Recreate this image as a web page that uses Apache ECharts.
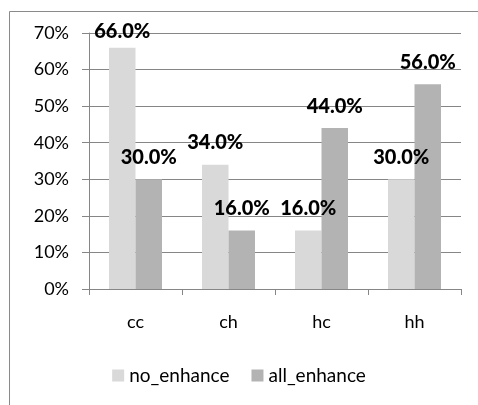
<!DOCTYPE html>
<html>
<head>
<meta charset="utf-8">
<script src="https://cdn.jsdelivr.net/npm/echarts@6/dist/echarts.min.js"></script>
<style>
  html, body { margin: 0; padding: 0; background: #fff; }
  #chart { width: 478px; height: 405px; }
</style>
</head>
<body>
<div id="chart"></div>
<script>
// Categories and series values (percent)
var categories = ['cc', 'ch', 'hc', 'hh'];
var noEnhance = [66, 34, 16, 30];
var allEnhance = [30, 16, 44, 56];
var yTicks = { min: 0, max: 70, interval: 10 };

var FONT = 'Lato, "Open Sans", sans-serif';

var chart = echarts.init(document.getElementById('chart'), null, { renderer: 'canvas' });

function labelStyle() {
  return {
    show: true,
    position: 'top',
    distance: 12,
    fontFamily: FONT,
    fontWeight: 900,
    fontSize: 20,
    color: '#000',
    formatter: function (p) { return p.value.toFixed(1) + '%'; }
  };
}

// Bars near the top of the value range keep their label inside the plot
function toItems(values) {
  return values.map(function (v) {
    return v > yTicks.max - 8 ? { value: v, label: { distance: 6 } } : v;
  });
}

chart.setOption({
  animation: false,
  backgroundColor: '#fff',
  graphic: [{
    type: 'rect',
    shape: { x: 9.5, y: 11.5, width: 500, height: 420 },
    style: { fill: 'none', stroke: '#8a8a8a', lineWidth: 1 },
    silent: true,
    z: -1
  }],
  grid: { left: 89, top: 33, right: 17, bottom: 116 },
  legend: {
    bottom: 15,
    left: 'center',
    itemWidth: 12,
    itemHeight: 12,
    itemGap: 22,
    icon: 'rect',
    textStyle: { fontFamily: FONT, fontSize: 19, color: '#000' },
    data: ['no_enhance', 'all_enhance']
  },
  xAxis: {
    type: 'category',
    data: categories,
    axisLine: { lineStyle: { color: '#868686', width: 1 } },
    axisTick: { show: true, length: 6, lineStyle: { color: '#868686' } },
    axisLabel: { fontFamily: FONT, fontSize: 18, color: '#000', margin: 24 }
  },
  yAxis: {
    type: 'value',
    min: yTicks.min,
    max: yTicks.max,
    interval: yTicks.interval,
    axisLine: { show: true, lineStyle: { color: '#868686', width: 1 } },
    axisTick: { show: true, length: 7, lineStyle: { color: '#868686' } },
    splitLine: { lineStyle: { color: '#868686', width: 1 } },
    axisLabel: { fontFamily: FONT, fontSize: 18, color: '#000', margin: 20, formatter: '{value}%' }
  },
  series: [{
    name: 'no_enhance',
    type: 'bar',
    data: toItems(noEnhance),
    itemStyle: { color: '#d9d9d9' },
    barGap: '0%',
    barCategoryGap: '43%',
    label: labelStyle()
  }, {
    name: 'all_enhance',
    type: 'bar',
    data: toItems(allEnhance),
    itemStyle: { color: '#b3b3b3' },
    barGap: '0%',
    barCategoryGap: '43%',
    label: labelStyle()
  }]
});
</script>
</body>
</html>
